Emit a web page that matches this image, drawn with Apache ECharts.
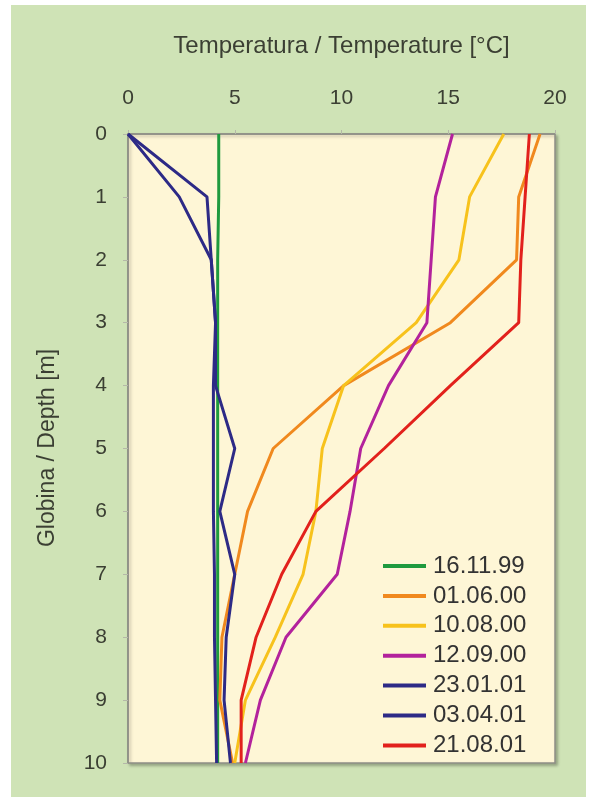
<!DOCTYPE html>
<html>
<head>
<meta charset="utf-8">
<script src="https://cdn.jsdelivr.net/npm/echarts@6/dist/echarts.min.js"></script>
<style>
html,body{margin:0;padding:0;background:#ffffff;}
#chart{width:596px;height:803px;}
</style>
</head>
<body>
<div id="chart"></div>
<script>
// Data
const depths = [0, 1, 2, 3, 4, 5, 6, 7, 8, 9, 10];
const seriesNames = ['16.11.99', '01.06.00', '10.08.00', '12.09.00', '23.01.01', '03.04.01', '21.08.01'];
const t161199 = [4.25, 4.25, 4.2, 4.2, 4.2, 4.2, 4.2, 4.2, 4.2, 4.2, 4.2];
const t010600 = [19.3, 18.3, 18.2, 15.1, 10.1, 6.8, 5.6, 5.0, 4.4, 4.3, 4.9];
const t100800 = [17.6, 16.0, 15.5, 13.5, 10.1, 9.1, 8.8, 8.2, 6.9, 5.5, 5.0];
const t120900 = [15.2, 14.4, 14.2, 14.0, 12.2, 10.9, 10.4, 9.8, 7.4, 6.2, 5.5];
const t230101 = [0, 3.7, 3.9, 4.1, 4.1, 5.0, 4.3, 5.0, 4.6, 4.5, 4.8];
const t030401 = [0, 2.4, 3.9, 4.1, 4.0, 4.0, 4.0, 4.05, 4.05, 4.1, 4.15];
const t210801 = [18.8, 18.6, 18.4, 18.3, 15.1, 12.0, 8.8, 7.2, 6.0, 5.3, 5.3];
const xTicks = [0, 5, 10, 15, 20];
const yTicks = [0, 1, 2, 3, 4, 5, 6, 7, 8, 9, 10];

const allTemps = [t161199, t010600, t100800, t120900, t230101, t030401, t210801];
const colors = ['#1f9a3e', '#f0891e', '#f7c21c', '#b3229c', '#2d2a86', '#2d2a86', '#e2211c'];

const chart = echarts.init(document.getElementById('chart'), null, {renderer: 'canvas'});
const font = 'Liberation Sans, Arial, sans-serif';
const textColor = '#3b3f33';

const series = seriesNames.map((name, i) => ({
  name: name,
  type: 'line',
  symbol: 'none',
  data: allTemps[i].map((t, k) => [t, depths[k]]),
  lineStyle: {width: 3, color: colors[i]},
  itemStyle: {color: colors[i]},
  z: 3 + i
}));

chart.setOption({
  animation: false,
  backgroundColor: '#ffffff',
  graphic: [
    {type: 'rect', left: 11, top: 5, shape: {width: 575, height: 792}, style: {fill: '#cfe3b6'}, z: -10},
    {type: 'text', x: 48, y: 448, rotation: Math.PI / 2,
     style: {text: 'Globina / Depth [m]', font: '23px ' + font, fill: textColor, textAlign: 'center', textVerticalAlign: 'middle'}}
  ],
  grid: {
    left: 128, top: 134, width: 427, height: 629,
    show: true, backgroundColor: '#fef6d6', borderColor: '#8e8f86', borderWidth: 1.5,
    shadowColor: 'rgba(0,0,0,0.25)', shadowBlur: 3, shadowOffsetX: 2, shadowOffsetY: 2
  },
  legend: {
    data: seriesNames,
    orient: 'vertical',
    left: 383, top: 554, padding: 0,
    icon: 'rect',
    itemWidth: 43, itemHeight: 4, itemGap: 5.9,
    textStyle: {fontSize: 24, lineHeight: 22, fontFamily: font, color: '#333333', padding: [0, 0, 0, 2]}
  },
  xAxis: {
    type: 'value', position: 'top', min: 0, max: 20, interval: 5,
    name: 'Temperatura / Temperature [°C]', nameLocation: 'middle', nameGap: 76,
    nameTextStyle: {fontSize: 24, fontFamily: font, color: textColor},
    axisLine: {show: true, lineStyle: {color: '#8e8f86', width: 1.5}},
    axisTick: {show: true, length: 4, lineStyle: {color: '#b5b8a8'}},
    axisLabel: {fontSize: 21, fontFamily: font, color: textColor, margin: 25},
    splitLine: {show: false}
  },
  yAxis: {
    type: 'value', inverse: true, min: 0, max: 10, interval: 1,
    axisLine: {show: true, lineStyle: {color: '#8e8f86', width: 1.5}},
    axisTick: {show: true, length: 5, lineStyle: {color: '#b5b8a8'}},
    axisLabel: {fontSize: 21, fontFamily: font, color: textColor, margin: 21},
    splitLine: {show: false}
  },
  series: series
});
</script>
</body>
</html>
